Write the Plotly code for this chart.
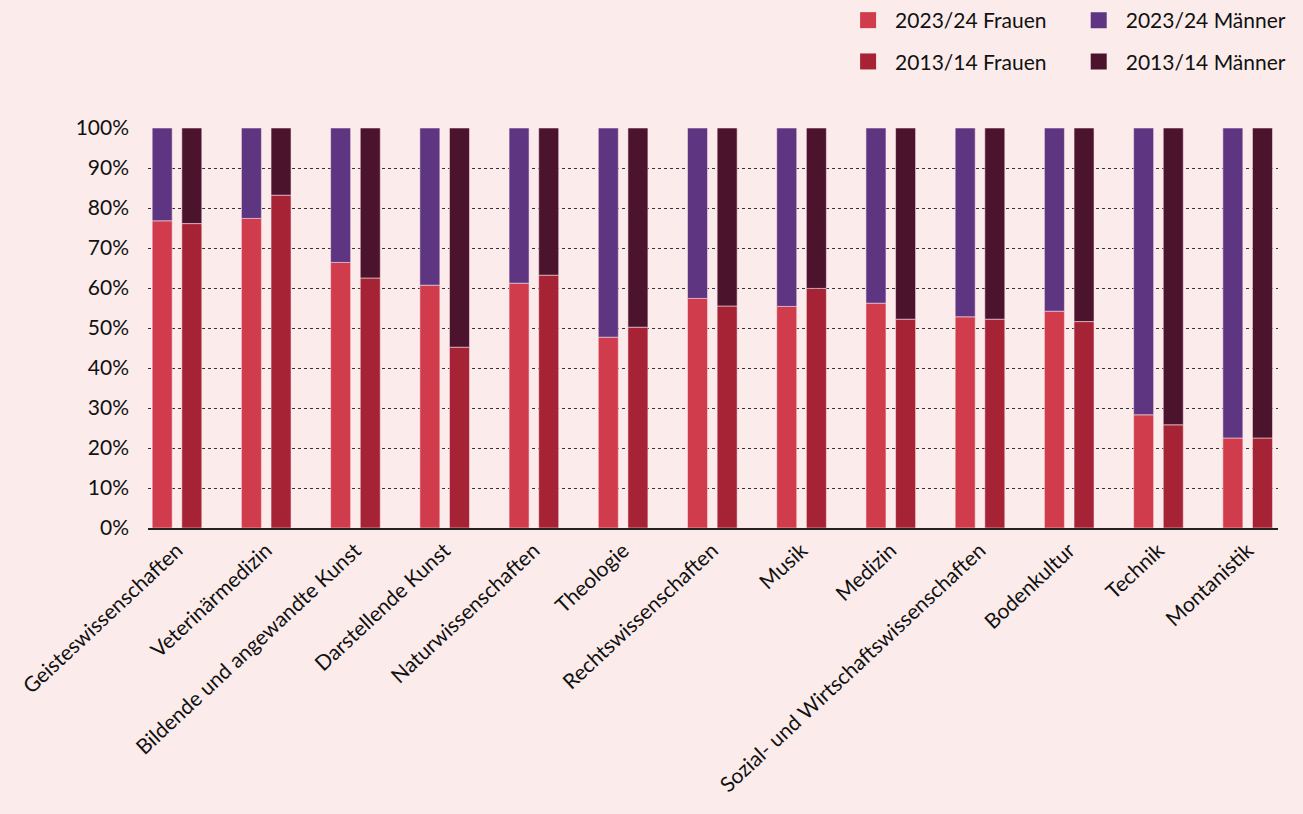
import plotly.graph_objects as go

categories = ["Geisteswissenschaften", "Veterinärmedizin", "Bildende und angewandte Kunst",
              "Darstellende Kunst", "Naturwissenschaften", "Theologie", "Rechtswissenschaften",
              "Musik", "Medizin", "Sozial- und Wirtschaftswissenschaften", "Bodenkultur",
              "Technik", "Montanistik"]
frauen_2023 = [76.8, 77.4, 66.4, 60.7, 61.2, 47.7, 57.4, 55.4, 56.2, 52.8, 54.2, 28.3, 22.5]
frauen_2013 = [76.1, 83.2, 62.5, 45.2, 63.2, 50.2, 55.5, 59.9, 52.2, 52.2, 51.6, 25.8, 22.5]
maenner_2023 = [round(100 - v, 1) for v in frauen_2023]
maenner_2013 = [round(100 - v, 1) for v in frauen_2013]
y_ticks = [0, 10, 20, 30, 40, 50, 60, 70, 80, 90, 100]
y_ticklabels = [f"{v}%" for v in y_ticks]

C_F23 = "#d13c4c"
C_F13 = "#a52335"
C_M23 = "#5d3580"
C_M13 = "#4c132d"
BG = "#fbeceb"
FONT = "Lato"
FS = 21

BW = 0.224
OFF23 = -0.278
OFF13 = 0.054
edge = dict(color="rgba(255,225,235,0.55)", width=1)

fig = go.Figure()
fig.add_bar(x=categories, y=frauen_2023, width=BW, offset=OFF23, marker=dict(color=C_F23, line=edge),
            showlegend=False)
fig.add_bar(x=categories, y=maenner_2023, base=frauen_2023, width=BW, offset=OFF23,
            marker=dict(color=C_M23, line=edge), showlegend=False)
fig.add_bar(x=categories, y=frauen_2013, width=BW, offset=OFF13, marker=dict(color=C_F13, line=edge),
            showlegend=False)
fig.add_bar(x=categories, y=maenner_2013, base=frauen_2013, width=BW, offset=OFF13,
            marker=dict(color=C_M13, line=edge), showlegend=False)

# legend entries
for name, col, leg, grp in [("2023/24 Frauen", C_F23, "legend", "a"),
                            ("2013/14 Frauen", C_F13, "legend", "b"),
                            ("2023/24 Männer", C_M23, "legend2", "c"),
                            ("2013/14 Männer", C_M13, "legend2", "d")]:
    fig.add_scatter(x=[None], y=[None], mode="markers", name=name, legend=leg, legendgroup=grp,
                    marker=dict(symbol="square", size=20, color=col))

leg_common = dict(orientation="v", bgcolor="rgba(0,0,0,0)", font=dict(family=FONT, size=FS, color="#111"),
                  xref="container", yref="container", xanchor="left", yanchor="top", tracegroupgap=11,
                  itemsizing="trace", itemwidth=44)
fig.update_layout(
    barmode="overlay",
    width=1303, height=814,
    paper_bgcolor=BG, plot_bgcolor=BG,
    margin=dict(l=148, r=25, t=128, b=286, autoexpand=False),
    font=dict(family=FONT, size=FS, color="#111"),
    legend=dict(**leg_common, x=0.6455, y=1.0),
    legend2=dict(**leg_common, x=0.8225, y=1.0),
    xaxis=dict(range=[-0.325, 12.34], tickangle=-43, showgrid=False, showline=True,
               linecolor="#222", linewidth=2, ticks="", tickfont=dict(size=FS)),
    yaxis=dict(range=[0, 100], tickvals=y_ticks, ticktext=y_ticklabels, showgrid=True,
               gridcolor="#333", griddash="dot", gridwidth=1, zeroline=False, showline=False,
               ticks="", tickfont=dict(size=FS), ticklabelstandoff=18),
)
fig.write_html("out.html", config={"displayModeBar": False},
               post_script="document.body.style.margin='0';")
